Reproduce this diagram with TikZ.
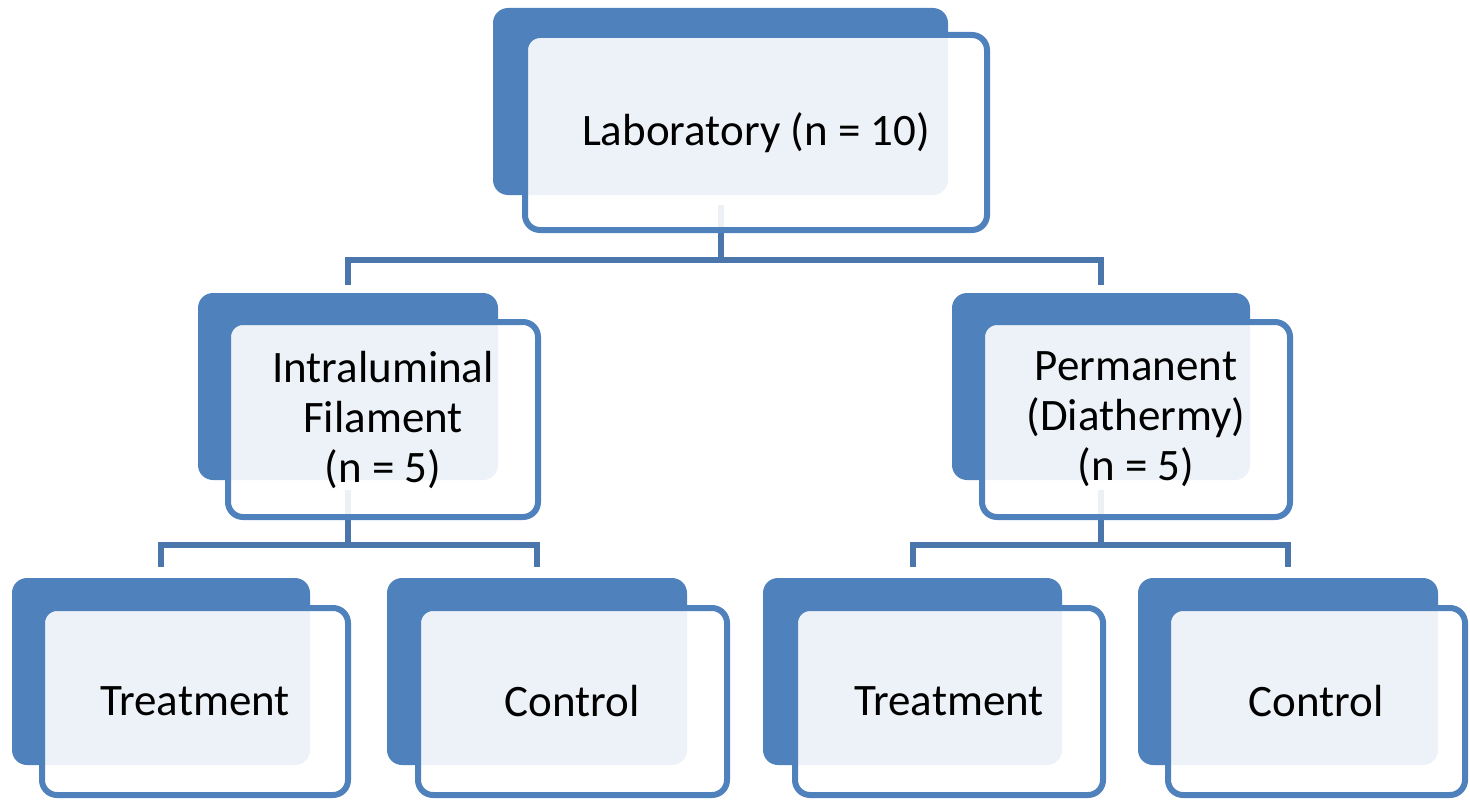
\documentclass[tikz,border=0pt]{standalone}
\usepackage{fontspec}
\setmainfont{Carlito}
\definecolor{accent}{HTML}{4F81BD}
\definecolor{connc}{HTML}{4A76AC}
\begin{document}
\begin{tikzpicture}[x=1pt,y=-1pt,
  backbox/.style={rectangle, rounded corners=15pt, fill=accent, draw=none, inner sep=0pt, outer sep=0pt},
  frontbox/.style={rectangle, rounded corners=15pt, draw=accent, line width=6pt, fill=white, fill opacity=0.9, text opacity=1, inner sep=0pt, outer sep=0pt, align=center, font=\fontsize{45}{50}\selectfont},
  conn/.style={draw=connc, line width=6pt}]
\useasboundingbox (0,0) rectangle (1470,800);
% back boxes
\node[backbox, minimum width=455pt, minimum height=187pt] (tB) at (720.5,101.5) {};
\node[backbox, minimum width=300pt, minimum height=187pt] (lB) at (348,386.5) {};
\node[backbox, minimum width=298pt, minimum height=187pt] (rB) at (1101,386.5) {};
\node[backbox, minimum width=298pt, minimum height=187pt] (b1B) at (161,671.5) {};
\node[backbox, minimum width=300pt, minimum height=187pt] (b2B) at (537,671.5) {};
\node[backbox, minimum width=299pt, minimum height=187pt] (b3B) at (912.5,671.5) {};
\node[backbox, minimum width=300pt, minimum height=187pt] (b4B) at (1288,671.5) {};
% connectors
\draw[conn] ([yshift=-10pt]tB.south) -- ([yshift=-65pt]tB.south);
\draw[conn] ([yshift=8pt]lB.north) |- ([yshift=-65pt]tB.south) -| ([yshift=8pt]rB.north);
\draw[conn] ([yshift=-10pt]lB.south) -- ([yshift=-65pt]lB.south);
\draw[conn] ([yshift=11pt]b1B.north) |- ([yshift=-65pt]lB.south) -| ([yshift=11pt]b2B.north);
\draw[conn] ([yshift=-10pt]rB.south) -- ([yshift=-65pt]rB.south);
\draw[conn] ([yshift=11pt]b3B.north) |- ([yshift=-65pt]rB.south) -| ([yshift=11pt]b4B.north);
% front boxes
\node[frontbox, minimum width=462pt, minimum height=195pt] (tF) at (756,132.5) {Laboratory (n = 10)};
\node[frontbox, minimum width=310pt, minimum height=195pt] (lF) at (383,419.5) {Intraluminal\\Filament\\(n = 5)};
\node[frontbox, minimum width=308pt, minimum height=195pt] (rF) at (1136,419.5) {Permanent\\(Diathermy)\\(n = 5)};
\node[frontbox, minimum width=306pt, minimum height=187pt] (b1F) at (195,701.5) {Treatment};
\node[frontbox, minimum width=309pt, minimum height=187pt] (b2F) at (572.5,701.5) {Control};
\node[frontbox, minimum width=308pt, minimum height=187pt] (b3F) at (949,701.5) {Treatment};
\node[frontbox, minimum width=297pt, minimum height=187pt] (b4F) at (1316.5,701.5) {Control};
\end{tikzpicture}
\end{document}
